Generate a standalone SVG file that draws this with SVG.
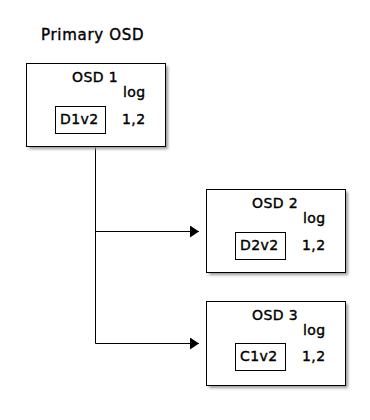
<svg xmlns="http://www.w3.org/2000/svg" width="370" height="420" viewBox="0 0 370 420">
<style>
text{font-family:"DejaVu Sans",sans-serif;fill:#000;stroke:#000;stroke-width:0.4px}
.t{font-size:15px;letter-spacing:0.7px}
.n{font-size:14px;letter-spacing:0.4px}
.box{fill:#fff;stroke:#000;stroke-width:1}
.sh{fill:#999;filter:url(#blur)}
.in{fill:none;stroke:#000;stroke-width:1}
.c{fill:none;stroke:#000;stroke-width:1}
</style>
<defs>
<filter id="blur" x="-10%" y="-10%" width="120%" height="120%"><feGaussianBlur stdDeviation="1.5"/></filter>
<marker id="ah" markerWidth="10" markerHeight="12" refX="9" refY="6" orient="auto" markerUnits="userSpaceOnUse"><path d="M0,0 L9,6 L0,12 Z" fill="#000"/></marker>
</defs>
<rect width="370" height="420" fill="#fff"/>
<text class="t" x="41" y="40">Primary OSD</text>
<g id="connectors">
<path class="c" d="M95.5,146 V343.5 H199" marker-end="url(#ah)"/>
<path class="c" d="M95.5,231.5 H199" marker-end="url(#ah)"/>
</g>
<g id="osd1">
<rect class="sh" x="29" y="66" width="139" height="83"/>
<rect class="box" x="26.5" y="63.5" width="139" height="83"/>
<text class="n" x="72" y="82">OSD 1</text>
<text class="n" x="123" y="97">log</text>
<rect class="in" x="55.5" y="106.5" width="50" height="27"/>
<text class="n" x="60" y="124">D1v2</text>
<text class="n" x="122" y="124">1,2</text>
</g>
<g id="osd2">
<rect class="sh" x="209" y="192" width="139" height="83"/>
<rect class="box" x="206.5" y="189.5" width="139" height="83"/>
<text class="n" x="252" y="208">OSD 2</text>
<text class="n" x="303" y="223">log</text>
<rect class="in" x="235.5" y="232.5" width="50" height="27"/>
<text class="n" x="240" y="250">D2v2</text>
<text class="n" x="302" y="250">1,2</text>
</g>
<g id="osd3">
<rect class="sh" x="209" y="304" width="139" height="84"/>
<rect class="box" x="206.5" y="301.5" width="139" height="84"/>
<text class="n" x="252" y="320">OSD 3</text>
<text class="n" x="303" y="335">log</text>
<rect class="in" x="235.5" y="343.5" width="50" height="27"/>
<text class="n" x="240" y="361">C1v2</text>
<text class="n" x="302" y="361">1,2</text>
</g>
</svg>
